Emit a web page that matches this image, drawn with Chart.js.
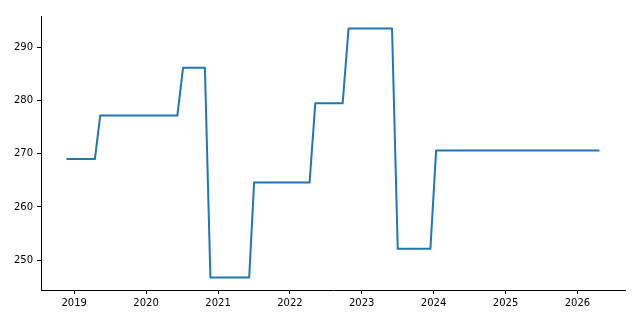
<!DOCTYPE html>
<html>
<head>
<meta charset="utf-8">
<script src="https://cdn.jsdelivr.net/npm/chart.js@4/dist/chart.umd.min.js"></script>
<style>
  html, body { margin: 0; padding: 0; background: #fff; }
  #wrap { width: 640px; height: 320px; }
</style>
</head>
<body>
<div id="wrap"><canvas id="myChart" width="640" height="320"></canvas></div>
<script>
// corner points of the line (dates)
const dates = [
  "2018-11-28", "2019-04-16", "2019-05-13", "2020-06-08", "2020-07-07",
  "2020-10-26", "2020-11-23", "2021-06-08", "2021-07-03", "2022-04-11",
  "2022-05-10", "2022-09-26", "2022-10-26", "2023-06-04", "2023-07-03",
  "2023-12-16", "2024-01-14", "2026-04-18"
];
const values = [
  269.0, 269.0, 277.2, 277.2, 286.2,
  286.2, 246.7, 246.7, 264.6, 264.6,
  279.5, 279.5, 293.6, 293.6, 252.1,
  252.1, 270.6, 270.6
];
const yearTicks = [2019, 2020, 2021, 2022, 2023, 2024, 2025, 2026];
const valueTicks = [250, 260, 270, 280, 290];

const points = dates.map((d, i) => ({ x: Date.parse(d), y: values[i] }));

// matplotlib style 5% margins
const xs = points.map(p => p.x);
const ys = points.map(p => p.y);
const xSpan = Math.max(...xs) - Math.min(...xs);
const ySpan = Math.max(...ys) - Math.min(...ys);

const tickFont = { family: "DejaVu Sans", size: 10 };

const config = {
  type: "line",
  data: {
    datasets: [
      {
        data: points,
        borderColor: "#1f77b4",
        borderWidth: 2,
        borderJoinStyle: "round",
        borderCapStyle: "square",
        pointRadius: 0,
        tension: 0,
        fill: false,
      },
    ],
  },
  options: {
    responsive: false,
    animation: false,
    devicePixelRatio: 1,
    layout: { padding: { top: 16, right: 15, left: 0, bottom: 0 } },
    plugins: { legend: { display: false }, tooltip: { enabled: false } },
    scales: {
      x: {
        type: "linear",
        min: Math.min(...xs) - 0.05 * xSpan,
        max: Math.max(...xs) + 0.05 * xSpan,
        afterBuildTicks: (scale) => {
          scale.ticks = yearTicks.map(y => ({ value: Date.UTC(y, 0, 1) }));
        },
        afterFit: (scale) => { scale.height = 30; },
        ticks: {
          autoSkip: false,
          maxRotation: 0,
          padding: 3,
          color: "#000",
          font: tickFont,
          callback: (v) => new Date(v).getUTCFullYear(),
        },
        grid: { display: true, drawOnChartArea: false, drawTicks: true, tickLength: 4, color: "#000" },
        border: { display: true, color: "#000", width: 1 },
      },
      y: {
        min: Math.min(...ys) - 0.05 * ySpan,
        max: Math.max(...ys) + 0.05 * ySpan,
        afterBuildTicks: (scale) => {
          scale.ticks = valueTicks.map(v => ({ value: v }));
        },
        afterFit: (scale) => { scale.width = 41; },
        ticks: {
          padding: 4,
          color: "#000",
          font: tickFont,
        },
        grid: { display: true, drawOnChartArea: false, drawTicks: true, tickLength: 4, color: "#000" },
        border: { display: true, color: "#000", width: 1 },
      },
    },
  },
};

const ctx = document.getElementById("myChart").getContext("2d");
new Chart(ctx, config);
</script>
</body>
</html>
